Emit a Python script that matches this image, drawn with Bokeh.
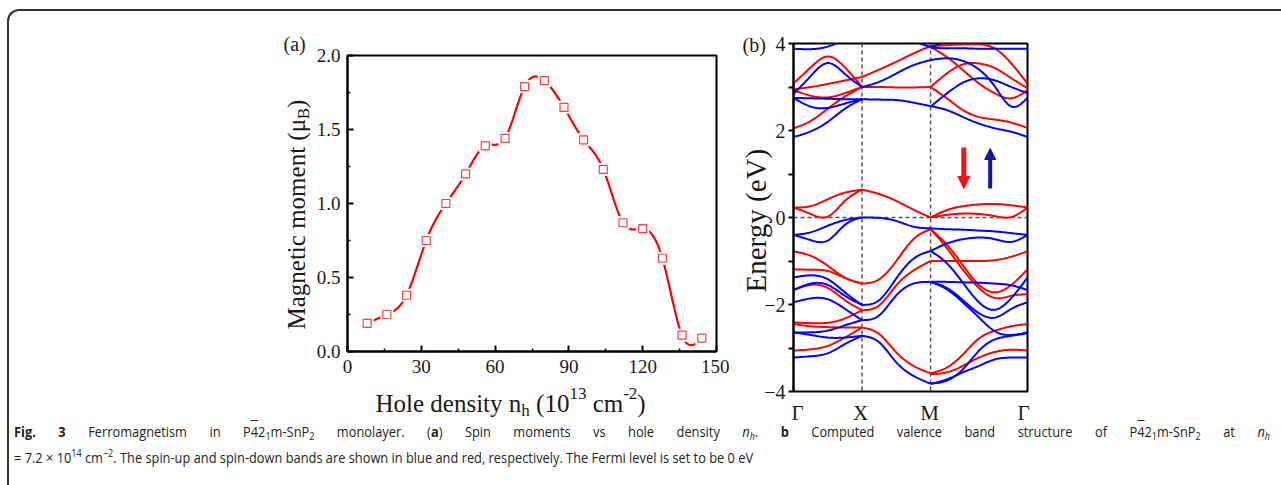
import numpy as np
from bokeh.plotting import figure
from bokeh.models import Range1d, FixedTicker, Label, Span, Arrow, NormalHead, Div, PrintfTickFormatter
from bokeh.layouts import column
from bokeh.embed import file_html
from bokeh.resources import INLINE

# ---------------- data: panel (a) ----------------
hole_density = [8, 16, 24, 32, 40, 48, 56, 64, 72, 80, 88, 96, 104, 112, 120, 128, 136, 144]
moment = [0.19, 0.25, 0.38, 0.75, 1.00, 1.20, 1.39, 1.44, 1.79, 1.83, 1.65, 1.43, 1.23, 0.87, 0.83, 0.63, 0.11, 0.09]
a_xticks = [0, 30, 60, 90, 120, 150]
a_xminor = [15, 45, 75, 105, 135]
a_yticks = [0.0, 0.5, 1.0, 1.5, 2.0]
a_yminor = [0.25, 0.75, 1.25, 1.75]

# ---------------- data: panel (b) ----------------
k_labels = ["Γ", "X", "M", "Γ"]
k_points = [0.0, 1.0, 2.0, 3.414]
b_yticks = [-4, -2, 0, 2, 4]
b_yminor = [-3, -1, 1, 3]
K_GX = [0.0, 0.25, 0.5, 0.75, 1.0]
K_XM = [1.0, 1.25, 1.5, 1.75, 2.0]
K_MG = [2.0, 2.236, 2.471, 2.707, 2.943, 3.179, 3.414]

GX_up = [
    [3.88, 3.87, 3.93, 4.10, 4.30],
    [2.84, 3.25, 3.55, 3.30, 3.00],
    [2.75, 2.55, 2.52, 2.62, 2.72],
    [2.75, 2.74, 2.73, 2.72, 2.72],
    [1.85, 1.98, 2.20, 2.50, 2.72],
    [-0.40, -0.34, -0.19, -0.06, 0.00],
    [-0.40, -0.52, -0.53, -0.17, 0.00],
    [-1.38, -1.33, -1.42, -1.72, -2.01],
    [-1.67, -1.52, -1.55, -1.80, -2.01],
    [-1.95, -1.86, -1.88, -2.10, -2.36],
    [-2.64, -2.64, -2.60, -2.48, -2.36],
    [-2.64, -2.70, -2.76, -2.76, -2.72],
    [-3.22, -3.19, -3.12, -2.91, -2.72],
]
GX_dn = [
    [3.08, 3.45, 3.70, 3.45, 3.00],
    [2.95, 3.00, 3.07, 3.15, 3.23],
    [2.93, 2.80, 2.76, 2.86, 3.00],
    [2.05, 2.22, 2.50, 2.78, 3.00],
    [0.23, 0.26, 0.42, 0.57, 0.64],
    [0.23, 0.08, 0.02, 0.38, 0.64],
    [-0.78, -0.88, -1.11, -1.38, -1.52],
    [-1.19, -1.20, -1.23, -1.39, -1.52],
    [-1.67, -1.55, -1.62, -1.90, -2.13],
    [-2.41, -2.43, -2.42, -2.32, -2.13],
    [-2.45, -2.50, -2.52, -2.53, -2.53],
    [-3.06, -3.03, -2.95, -2.76, -2.53],
]
XM_up = [
    [4.40, 4.30, 4.18, 4.05, 3.92],
    [3.00, 3.12, 3.31, 3.50, 3.62],
    [2.72, 2.71, 2.70, 2.64, 2.56],
    [0.00, -0.01, -0.08, -0.21, -0.25],
    [-2.01, -1.90, -1.40, -0.95, -0.77],
    [-2.36, -2.25, -1.79, -1.52, -1.48],
    [-2.72, -2.87, -3.33, -3.64, -3.82],
]
XM_dn = [
    [3.23, 3.40, 3.58, 3.77, 3.94],
    [3.00, 3.00, 2.99, 2.99, 3.00],
    [0.64, 0.54, 0.38, 0.18, 0.00],
    [-1.52, -1.42, -1.00, -0.50, -0.27],
    [-2.13, -2.02, -1.56, -1.22, -1.00],
    [-2.53, -2.68, -3.10, -3.41, -3.58],
]
MG_up = [
    [3.92, 4.05, 4.20, 4.30, 4.35, 4.40, 4.45],
    [3.90, 3.89, 3.89, 3.88, 3.88, 3.88, 3.88],
    [3.62, 3.66, 3.60, 3.40, 3.00, 2.55, 2.75],
    [2.55, 2.85, 3.10, 3.20, 3.15, 3.00, 2.86],
    [2.56, 2.47, 2.31, 2.16, 2.05, 1.97, 1.85],
    [-0.25, -0.27, -0.28, -0.30, -0.32, -0.36, -0.40],
    [-0.77, -0.60, -0.50, -0.46, -0.50, -0.56, -0.40],
    [-0.77, -1.05, -1.50, -1.95, -2.12, -1.85, -1.38],
    [-1.48, -1.62, -1.90, -2.20, -2.30, -2.10, -1.95],
    [-1.48, -1.48, -1.49, -1.50, -1.52, -1.56, -1.67],
    [-1.48, -1.65, -1.95, -2.30, -2.62, -2.70, -2.64],
    [-3.82, -3.75, -3.49, -3.06, -2.80, -2.72, -2.66],
    [-3.82, -3.72, -3.56, -3.41, -3.26, -3.22, -3.22],
]
MG_dn = [
    [3.94, 3.96, 3.98, 3.98, 3.88, 3.54, 3.08],
    [3.92, 3.69, 3.39, 3.08, 2.85, 2.74, 2.93],
    [3.00, 3.31, 3.52, 3.54, 3.43, 3.20, 2.97],
    [3.00, 2.74, 2.47, 2.31, 2.25, 2.18, 2.06],
    [0.00, 0.17, 0.26, 0.30, 0.31, 0.28, 0.23],
    [0.00, 0.06, 0.09, 0.08, 0.03, 0.01, 0.23],
    [-0.27, -0.62, -1.10, -1.55, -1.72, -1.55, -1.19],
    [-0.27, -0.70, -1.20, -1.62, -1.85, -1.80, -1.76],
    [-1.00, -1.00, -1.00, -1.00, -0.98, -0.90, -0.78],
    [-3.58, -3.45, -3.15, -2.78, -2.60, -2.50, -2.45],
    [-3.60, -3.56, -3.41, -3.22, -3.09, -3.04, -3.06],
]

caption_line1 = ("<b>Fig. 3</b> Ferromagnetism in P{ob}2{s1}m-SnP{s2} monolayer. (<b>a</b>) Spin moments vs hole density "
                 "<i>n{sh}</i>. <b>b</b> Computed valence band structure of P{ob}2{s1}m-SnP{s2} at <i>n{sh}</i>")
caption_line2 = ("= 7.2 &times; 10{p14} cm{pm2}. The spin-up and spin-down bands are shown in blue and red, "
                 "respectively. The Fermi level is set to be 0 eV")

# ---------------- helpers ----------------
SERIF = "Liberation Serif"
TXT = "#1a1a1a"
TW = {' ': 0.25, '(': 0.333, ')': 0.333, '-': 0.333, '.': 0.25, '0': 0.5, '1': 0.5, '2': 0.5, '3': 0.5,
      'H': 0.722, 'B': 0.667, 'M': 0.889, 'E': 0.611, 'V': 0.722,
      'a': 0.444, 'c': 0.444, 'd': 0.5, 'e': 0.444, 'g': 0.5, 'h': 0.5, 'i': 0.278, 'l': 0.278,
      'm': 0.778, 'n': 0.5, 'o': 0.5, 'r': 0.333, 's': 0.389, 't': 0.278, 'y': 0.5, 'μ': 0.52}


def tw(s, size):
    return sum(TW.get(ch, 0.5) for ch in s) * size


def nat_spline(xk, yk, n=80):
    xk = np.asarray(xk, float)
    yk = np.asarray(yk, float)
    m = len(xk)
    h = np.diff(xk)
    A = np.zeros((m, m))
    r = np.zeros(m)
    A[0, 0] = A[-1, -1] = 1.0
    for i in range(1, m - 1):
        A[i, i - 1] = h[i - 1]
        A[i, i] = 2 * (h[i - 1] + h[i])
        A[i, i + 1] = h[i]
        r[i] = 3 * ((yk[i + 1] - yk[i]) / h[i] - (yk[i] - yk[i - 1]) / h[i - 1])
    c = np.linalg.solve(A, r)
    b = (yk[1:] - yk[:-1]) / h - h * (2 * c[:-1] + c[1:]) / 3
    d = (c[1:] - c[:-1]) / (3 * h)
    xs = np.linspace(xk[0], xk[-1], n)
    idx = np.clip(np.searchsorted(xk, xs, side="right") - 1, 0, m - 2)
    dx = xs - xk[idx]
    ys = yk[idx] + b[idx] * dx + c[idx] * dx ** 2 + d[idx] * dx ** 3
    return xs.tolist(), ys.tolist()


def style_axis(ax, size):
    ax.axis_line_width = 2
    ax.axis_line_color = "black"
    ax.major_label_text_font = SERIF
    ax.major_label_text_font_size = size
    ax.major_label_text_color = TXT
    ax.major_tick_line_width = 2
    ax.minor_tick_line_width = 1.5
    ax.major_tick_line_color = "black"
    ax.minor_tick_line_color = "black"


def absolute(left, top):
    return {"position": "absolute", "left": f"{left}px", "top": f"{top}px"}


# ---------------- page geometry (pixels) ----------------
PAGE_W, PAGE_H = 1281, 485
BL, BR = 77, 13           # common left/right borders (plots in one column get aligned borders)
A_FL, A_FT, A_FW, A_FH = 347, 55, 369, 296
B_FL, B_FT, B_FW, B_FH = 793, 43, 234, 348
A_TOP, B_TOP = 44, 32

# ---------------- panel (a) ----------------
pa = figure(frame_width=A_FW, frame_height=A_FH,
            min_border_left=BL, min_border_right=BR, min_border_top=A_TOP, min_border_bottom=30,
            x_range=Range1d(0, 150), y_range=Range1d(0, 2.0),
            output_backend="svg", toolbar_location=None, tools="",
            styles=absolute(A_FL - BL, A_FT - A_TOP))
pa.border_fill_color = None
pa.xgrid.visible = False
pa.ygrid.visible = False
pa.outline_line_color = "black"
pa.outline_line_width = 2
pa.outline_line_alpha = 1
for ax in (pa.xaxis[0], pa.yaxis[0]):
    style_axis(ax, "19px")
    ax.major_tick_in = 6
    ax.major_tick_out = 0
    ax.minor_tick_in = 3
    ax.minor_tick_out = 0
pa.xaxis.ticker = FixedTicker(ticks=a_xticks, minor_ticks=a_xminor)
pa.yaxis.ticker = FixedTicker(ticks=a_yticks, minor_ticks=a_yminor)
pa.yaxis.formatter = PrintfTickFormatter(format="%.1f")
pa.xaxis.major_label_standoff = 8
pa.yaxis.major_label_standoff = 7

sx, sy = nat_spline(hole_density, moment, n=400)
pa.line(sx, sy, line_color="#ff0000", line_width=2.2)
pa.scatter(hole_density, moment, marker="square", size=13, fill_color="white", line_color=None)
pa.scatter(hole_density, moment, marker="square", size=8, fill_color="white", line_color="#ff4040", line_width=1.2)

# ---------------- panel (b) ----------------
pb = figure(frame_width=B_FW, frame_height=B_FH,
            min_border_left=BL, min_border_right=BR, min_border_top=B_TOP, min_border_bottom=10,
            x_range=Range1d(k_points[0], k_points[-1]), y_range=Range1d(-4, 4),
            output_backend="svg", toolbar_location=None, tools="",
            styles=absolute(B_FL - BL, B_FT - B_TOP))
pb.border_fill_color = None
pb.xgrid.visible = False
pb.ygrid.visible = False
pb.outline_line_color = "black"
pb.outline_line_width = 2
pb.outline_line_alpha = 1
pb.xaxis.visible = False
ayb = pb.yaxis[0]
style_axis(ayb, "20px")
ayb.major_tick_in = 0
ayb.major_tick_out = 5
ayb.minor_tick_in = 0
ayb.minor_tick_out = 5
ayb.minor_tick_line_width = 2
ayb.major_label_standoff = 3
ayb.ticker = FixedTicker(ticks=b_yticks, minor_ticks=b_yminor)

for kp in k_points[1:-1]:
    pb.add_layout(Span(location=kp, dimension="height", line_color="#555555", line_dash="4 3",
                       line_width=1.5, level="underlay"))
pb.add_layout(Span(location=0, dimension="width", line_color="#555555", line_dash="4 3",
                   line_width=1.5, level="underlay"))

for groups, color in (([(K_GX, GX_dn), (K_XM, XM_dn), (K_MG, MG_dn)], "#ff0000"),
                      ([(K_GX, GX_up), (K_XM, XM_up), (K_MG, MG_up)], "#0000ff")):
    xs_all, ys_all = [], []
    for kk, lines in groups:
        for ln in lines:
            xs, ys = nat_spline(kk, ln, n=90)
            xs_all.append(xs)
            ys_all.append(ys)
    pb.multi_line(xs_all, ys_all, line_color=color, line_width=2)


def b_xd(px):
    return k_points[0] + (px - B_FL) / B_FW * (k_points[-1] - k_points[0])


def b_yd(py):
    return 4 - (py - B_FT) / B_FH * 8.0


pb.add_layout(Arrow(x_start=b_xd(963.3), y_start=b_yd(147), x_end=b_xd(963.3), y_end=b_yd(188),
                    line_color="#ff1010", line_width=5,
                    end=NormalHead(size=12, fill_color="#ff1010", line_color="#ff1010", line_width=1)))
pb.add_layout(Arrow(x_start=b_xd(989.7), y_start=b_yd(188), x_end=b_xd(989.7), y_end=b_yd(148),
                    line_color="#1515a0", line_width=4,
                    end=NormalHead(size=11, fill_color="#1515a0", line_color="#1515a0", line_width=1)))

# ---------------- text overlay (page-pixel coordinates) ----------------
ov = figure(width=PAGE_W, height=PAGE_H, x_range=Range1d(BL, PAGE_W - BR), y_range=Range1d(PAGE_H, 0),
            x_axis_type=None, y_axis_type=None, min_border_left=BL, min_border_right=BR,
            min_border_top=0, min_border_bottom=0, output_backend="svg",
            toolbar_location=None, tools="", styles=absolute(0, 0))
ov.xgrid.visible = False
ov.ygrid.visible = False
ov.outline_line_color = None
ov.background_fill_color = None
ov.border_fill_color = None


def put(x, y, text, size, angle=0.0, align="left"):
    ov.add_layout(Label(x=x, y=y, text=text, text_font=SERIF, text_font_size=f"{size}px",
                        angle=angle, text_align=align, text_baseline="alphabetic", text_color=TXT))


def put_run(x0, y0, pieces, vertical=False):
    """Place a run of text pieces (text, size, baseline shift) one after another."""
    pos = x0 if not vertical else y0
    for txt, fs, shift in pieces:
        lead = len(txt) - len(txt.lstrip(" "))
        pos += tw(" " * lead, fs) * (-1 if vertical else 1)
        body = txt.lstrip(" ")
        if vertical:
            put(x0 + shift, pos, body, fs, angle=np.pi / 2)
            pos -= tw(body, fs)
        else:
            put(pos, y0 + shift, body, fs)
            pos += tw(body, fs)


put_run(375.0, 403.0, [("Hole density n", 25, 0), ("h", 17, 7), (" (10", 25, 0), ("13", 17, -10),
                       (" cm", 25, 0), ("-2", 17, -10), (")", 25, 0)])
put_run(296.0, 329.0, [("Magnetic moment (μ", 25, 0), ("B", 17, 7), (")", 25, 0)], vertical=True)
put(283, 43, "(a)", 20)
put(742, 44, "(b)", 20)
put(755, 292, "Energy (eV)", 29, angle=np.pi / 2)
for lab, px in zip(k_labels, [797, 860, 929, 1023]):
    put(px, 412, lab, 21, align="center")

# ---------------- caption ----------------
sub_style = "font-size:70%;line-height:0;vertical-align:-0.25em"
sup_style = "font-size:70%;line-height:0;vertical-align:0.55em"
fmt = dict(ob='<span style="text-decoration:overline">4</span>',
           s1=f'<span style="{sub_style}">1</span>', s2=f'<span style="{sub_style}">2</span>',
           sh=f'<span style="{sub_style}">h</span>',
           p14=f'<span style="{sup_style}">14</span>', pm2=f'<span style="{sup_style}">&minus;2</span>')
SCALE = 0.855
line_css = (f"font-family:'Open Sans';font-size:15px;color:#231f20;line-height:26px;white-space:nowrap;"
            f"transform:scaleX({SCALE});transform-origin:0 0;")
cap_html = (f'<div style="{line_css}width:{1256 / SCALE:.0f}px;text-align:justify;text-align-last:justify;'
            f'white-space:normal">' + caption_line1.format(**fmt) + '</div>'
            f'<div style="{line_css}">' + caption_line2.format(**fmt) + '</div>')
cap = Div(text=cap_html, width=1266, height=58, margin=0,
          styles={**absolute(14, 418), "overflow": "hidden"})

frame = Div(text="", width=PAGE_W - 7, height=PAGE_H - 9, margin=0,
            styles={**absolute(7, 9), "border-left": "2px solid #333", "border-top": "2px solid #333",
                    "border-top-left-radius": "12px", "box-sizing": "border-box"})

root = column(frame, pa, pb, cap, ov, width=PAGE_W, height=PAGE_H,
              styles={"position": "relative"})

open("out.html", "w").write(file_html(root, INLINE))
